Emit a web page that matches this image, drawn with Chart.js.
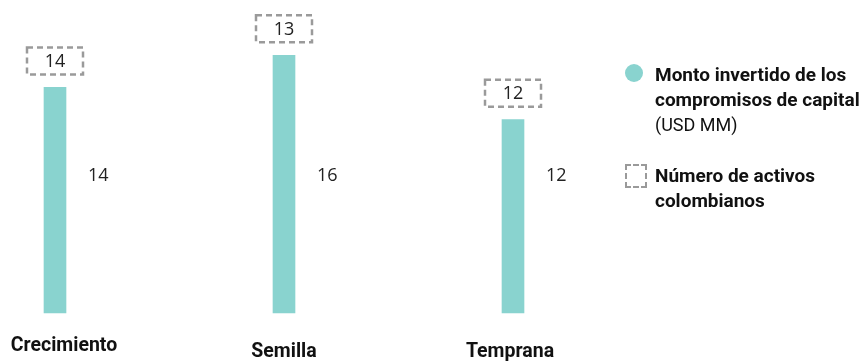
<!DOCTYPE html>
<html><head><meta charset="utf-8">
<script src="https://cdn.jsdelivr.net/npm/chart.js@4"></script>
<style>
html,body{margin:0;padding:0;background:#fff;}
#wrap{position:relative;width:864px;height:364px;}
canvas{position:absolute;left:0;top:0;}
.leg{position:absolute;font-family:Roboto, "Noto Sans", sans-serif;color:#111;font-size:19px;line-height:25px;white-space:nowrap;}
.leg b{font-weight:700;}
.leg span{font-weight:400;font-size:18px;}
.dot{position:absolute;left:625px;top:64px;width:18px;height:18px;border-radius:50%;background:#89d3cf;}
.sq{position:absolute;left:625px;top:164px;width:18px;height:20px;border:2px dashed #9a9a9a;}
</style></head>
<body><div id="wrap"><canvas id="c" width="864" height="364"></canvas>
<div class="dot"></div>
<div class="leg" style="left:655px;top:62px;"><b>Monto invertido de los<br>compromisos de capital</b><br><span>(USD MM)</span></div>
<div class="sq"></div>
<div class="leg" style="left:655px;top:163px;"><b>Número de activos<br>colombianos</b></div>
</div>
<script>
const categories = ["Crecimiento", "Semilla", "Temprana"];
const montoInvertido = [14, 16, 12];
const numeroActivos = [14, 13, 12];

const overlay = {
  id: 'overlay',
  afterDatasetsDraw(chart) {
    const ctx = chart.ctx;
    const meta = chart.getDatasetMeta(0);
    const area = chart.chartArea;
    ctx.save();
    meta.data.forEach((bar, i) => {
      const x = bar.x, top = bar.y, w = bar.width;
      // value label to the right
      ctx.fillStyle = '#222';
      ctx.font = '400 18px "Open Sans", sans-serif';
      ctx.textAlign = 'left';
      ctx.textBaseline = 'middle';
      ctx.fillText(String(montoInvertido[i]), x + w / 2 + 22, 176);
      // dashed box above
      const bw = 56, bh = 27;
      const by = top - 13 - bh;
      ctx.setLineDash([6, 4]);
      ctx.lineWidth = 2.5;
      ctx.strokeStyle = '#9a9a9a';
      ctx.strokeRect(x - bw / 2, by, bw, bh);
      ctx.setLineDash([]);
      ctx.textAlign = 'center';
      ctx.fillText(String(numeroActivos[i]), x, by + bh / 2 + 1);
      // category label
      ctx.fillStyle = '#111';
      ctx.font = '700 19.5px Roboto, sans-serif';
      ctx.fillText(categories[i], x + (i === 0 ? 9 : (i === 2 ? -3 : 0)), area.bottom + (i === 0 ? 33 : 39));
    });
    ctx.restore();
  }
};

new Chart(document.getElementById('c'), {
  type: 'bar',
  data: {
    labels: categories,
    datasets: [{
      label: 'Monto invertido de los compromisos de capital (USD MM)',
      data: montoInvertido,
      backgroundColor: '#89d3cf',
      barThickness: 22,
      clip: false
    }]
  },
  options: {
    responsive: false,
    animation: false,
    events: [],
    layout: { padding: { left: 55, right: 351, top: 23, bottom: 51 } },
    scales: {
      x: { display: false, offset: false },
      y: { display: false, min: 0, max: 18 }
    },
    plugins: { legend: { display: false }, tooltip: { enabled: false } }
  },
  plugins: [overlay]
});
</script>
</body></html>
